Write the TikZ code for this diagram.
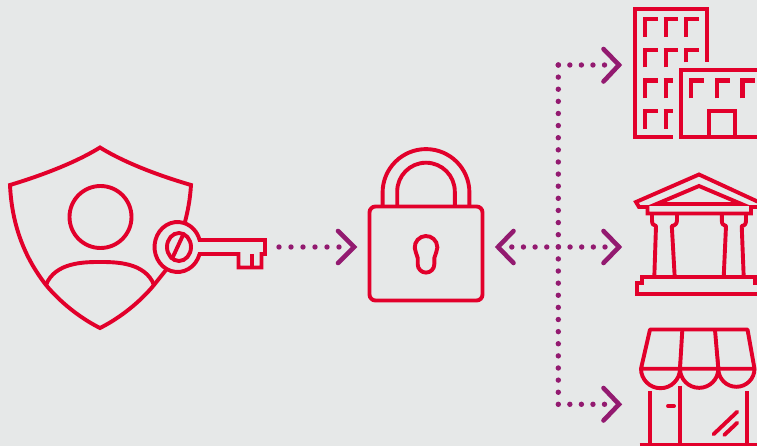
\documentclass[tikz,border=0pt]{standalone}
\definecolor{bgc}{HTML}{E6E8E8}
\definecolor{redc}{HTML}{E2002B}
\definecolor{purc}{HTML}{931A70}
\tikzset{
  icon/.style={draw=redc,line width=3.9pt,line join=miter,line cap=butt},
  iconr/.style={draw=redc,line width=3.9pt,line join=round,line cap=round},
  bld/.style={draw=redc,line width=4.4pt,line join=miter,line cap=butt},
  dotline/.style={draw=purc,line width=5.4pt,line cap=round},
  chev/.style={draw=purc,line width=4.6pt,line cap=round,line join=miter}
}
\begin{document}
\begin{tikzpicture}[x=1pt,y=1pt,yscale=-1]
\useasboundingbox (0,0) rectangle (757,446);
\fill[bgc] (0,0) rectangle (757,446);
\clip (0,0) rectangle (757,446);
% connector ends
\coordinate (keyEnd) at (279,247);
\coordinate (keyTip) at (339.6,247);
\coordinate (lockDot) at (511.8,247);
\coordinate (bankDot) at (605,247);
\coordinate (trunkTop) at (558.3,65);
\coordinate (trunkBot) at (558.3,404.3);
\coordinate (topDot) at (604.5,65);
\coordinate (botDot) at (604.5,404.3);
% dotted connectors
\draw[dotline,dash pattern=on 0pt off 12pt] (keyEnd) -- (keyTip);
\draw[dotline,dash pattern=on 0pt off 11.65pt] (lockDot) -- (bankDot);
\draw[dotline,dash pattern=on 0pt off 12.12pt] (trunkTop) -- (trunkBot);
\draw[dotline,dash pattern=on 0pt off 11.55pt] (trunkTop) -- (topDot);
\draw[dotline,dash pattern=on 0pt off 11.55pt] (trunkBot) -- (botDot);
% chevrons
\draw[chev] (338,231) -- (354,247) -- (338,263);
\draw[chev] (513.5,231) -- (498,247) -- (513.5,263);
\draw[chev] (603.5,231) -- (619,247) -- (603.5,263);
\draw[chev] (603.5,49) -- (619,65) -- (603.5,81.5);
\draw[chev] (603.5,388) -- (619,404.3) -- (603.5,420.5);
% shield
\draw[icon] (185,222) .. controls (188,210) and (190,200) .. (191,185)
  .. controls (160,176) and (125,163) .. (100,147.5)
  .. controls (75,163) and (40,176) .. (10,185)
  .. controls (12,230) and (28,262) .. (46,285)
  .. controls (60,302) and (80,318) .. (100,328)
  .. controls (120,318) and (140,302) .. (154,285)
  -- (166,270);
\draw[icon] (100.5,217) circle[radius=31];
\draw[icon] (46,285) .. controls (55,262) and (85,262) .. (100,262)
  .. controls (115,262) and (145,262) .. (154,285);
% key
\draw[icon] (199.6,254) arc[start angle=16.26,end angle=343.74,x radius=23,y radius=25]
  -- (265,240) -- (265,254) -- (261.5,254) -- (261.5,267.5) -- (238.5,267.5) -- (238.5,254) -- cycle;
\draw[icon] (252,254) -- (252,267.5);
\draw[icon] (179,247) ellipse[x radius=12,y radius=14];
\draw[icon] (183.5,234) -- (171.5,260);
% lock
\draw[icon,rounded corners=6pt] (369.5,206.5) rectangle (482.5,300.5);
\draw[icon] (382.6,206) -- (382.6,192.5) arc[start angle=180,end angle=360,radius=43.4] -- (469.4,206);
\draw[icon] (397.2,206) -- (397.2,191.5) arc[start angle=180,end angle=360,radius=28.8] -- (454.8,206);
\draw[icon,line join=round] (415.8,252.1) arc[start angle=155,end angle=385,radius=11.3]
  -- (434.3,258) -- (434.3,264.3) arc[start angle=0,end angle=180,radius=8.3] -- (417.7,258) -- cycle;
% office buildings
\draw[bld] (672.7,136.9) -- (635,136.9) -- (635,9) -- (706.7,9) -- (706.7,62.3);
\foreach \yy/\yb in {19.3/36.7,50/67.3,80.7/98.3,111.3/129}{
  \draw[bld] (645,\yb) -- (645,\yy) -- (657.5,\yy);
  \draw[bld] (665.7,\yb) -- (665.7,\yy);
}
\draw[bld] (663.5,19.3) -- (678,19.3);
\draw[bld] (663.5,50) -- (678,50);
\draw[bld] (663.5,80.7) -- (672.7,80.7);
\draw[bld] (663.5,111.3) -- (672.7,111.3);
\draw[bld] (686,36.7) -- (686,19.3) -- (698.7,19.3);
\draw[bld] (686,62.3) -- (686,50) -- (698.7,50);
\draw[bld] (760,70.3) -- (681,70.3) -- (681,137) -- (760,137);
\foreach \xx in {691,717,742.3}{
  \draw[bld] (\xx,98.3) -- (\xx,80.7) -- ++(12.7,0);
}
\draw[bld] (709,137) -- (709,111.3) -- (735,111.3) -- (735,137);
% bank
\draw[icon] (765,205) -- (699,174.5) -- (636,202) -- (639,207) -- (647.5,207) -- (647.5,213.5) -- (751,213.5) -- (751,207) -- (760,207);
\draw[icon] (699,186) -- (741.5,204) -- (656.5,204) -- cycle;
\draw[icon,line join=round] (652,214) -- (652,220) .. controls (652,224) and (653,225.5) .. (656,226) -- (654.3,277);
\draw[icon,line join=round] (677,214) -- (677,220) .. controls (677,224) and (675,225.5) .. (671.8,226) -- (674.7,277);
\draw[icon,line join=round] (721.8,214) -- (721.8,220) .. controls (721.8,224) and (723,225.5) .. (726,226) -- (723.7,277);
\draw[icon,line join=round] (746,214) -- (746,220) .. controls (746,224) and (745,225.5) .. (741.7,226) -- (743.7,277);
\draw[icon] (760,294) -- (636.8,294) -- (636.8,283.3) -- (641.7,283.3) -- (641.7,277.3) -- (755,277.3) -- (755,283.3) -- (760,283.3);
% shop
\draw[icon,line join=round] (641,368.7) -- (650,329.5) -- (747.5,329.5) -- (754.5,368.7) -- cycle;
\draw[icon] (682.3,330) -- (680,368.7);
\draw[icon] (715,330) -- (718.3,368.7);
\draw[icon] (641,368.7) arc[start angle=180,end angle=0,radius=19.5]
  arc[start angle=180,end angle=0,radius=19.15]
  arc[start angle=180,end angle=0,radius=18.1];
\draw[icon] (650.3,391) -- (650.3,444);
\draw[icon] (680.3,385.5) -- (680.3,444);
\draw[icon] (747.3,391) -- (747.3,444);
\draw[icon] (639.5,444.5) -- (760,444.5);
\draw[iconr] (668,406) -- (674,406);
\draw[iconr] (713.5,434.3) -- (737.3,411.7);
\draw[iconr] (724.3,435) -- (737.3,422.7);
\end{tikzpicture}
\end{document}
